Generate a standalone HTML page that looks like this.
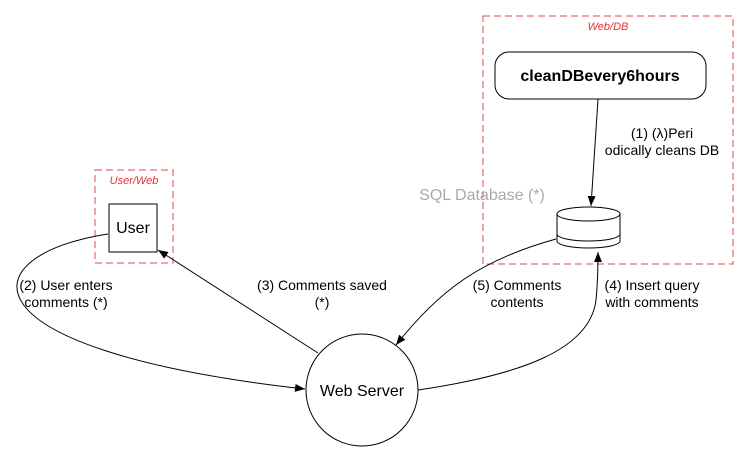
<!DOCTYPE html>
<html><head><style>body{margin:0;background:#fff}svg{display:block}text{font-family:"Liberation Sans",Arial,sans-serif}</style></head>
<body>
<svg width="750" height="453" viewBox="0 0 750 453" xmlns="http://www.w3.org/2000/svg">
<defs><marker id="a" markerWidth="10" markerHeight="8" refX="10" refY="4" orient="auto" markerUnits="userSpaceOnUse"><path d="M0,0 L10,4 L0,8 Z" fill="#000"/></marker></defs>
<rect x="483" y="16" width="250" height="248" fill="none" stroke="#e84848" stroke-dasharray="7,4"/>
<text x="608" y="30" font-size="11" font-style="italic" fill="#e83030" text-anchor="middle">Web/DB</text>
<rect x="95" y="170" width="78" height="93" fill="none" stroke="#e84848" stroke-dasharray="7,4"/>
<text x="134" y="184" font-size="11" font-style="italic" fill="#e83030" text-anchor="middle">User/Web</text>
<rect x="495" y="52" width="211" height="47" rx="14" fill="#fff" stroke="#000"/>
<text x="600" y="81" font-size="16" font-weight="bold" text-anchor="middle">cleanDBevery6hours</text>
<rect x="109" y="204" width="48" height="48" fill="#fff" stroke="#000"/>
<text x="133" y="233" font-size="16" text-anchor="middle">User</text>
<circle cx="362" cy="390" r="56" fill="#fff" stroke="#000"/>
<text x="362" y="396" font-size="16" text-anchor="middle">Web Server</text>
<path d="M557,214 L557,241 A31.5,7 0 0 0 620,241 L620,214" fill="#fff" stroke="#000"/>
<ellipse cx="588.5" cy="214" rx="31.5" ry="7" fill="#fff" stroke="#000"/>
<path d="M557,234 A31.5,7 0 0 0 620,234" fill="none" stroke="#000"/>
<text x="482" y="200" font-size="16" fill="#aaa" text-anchor="middle">SQL Database (*)</text>
<path d="M598,99 L591,206" stroke="#000" fill="none" marker-end="url(#a)"/>
<text x="662" y="138" font-size="14" text-anchor="middle">(1) (λ)Peri</text>
<text x="662" y="155" font-size="14" text-anchor="middle">odically cleans DB</text>
<path d="M108,234 C-30,255 -45,350 305,389" stroke="#000" fill="none" marker-end="url(#a)"/>
<text x="66" y="290" font-size="14" text-anchor="middle">(2) User enters</text>
<text x="66" y="307" font-size="14" text-anchor="middle">comments (*)</text>
<path d="M318,353 L158,250" stroke="#000" fill="none" marker-end="url(#a)"/>
<text x="322" y="290" font-size="14" text-anchor="middle">(3) Comments saved</text>
<text x="322" y="307" font-size="14" text-anchor="middle">(*)</text>
<path d="M556,239 C480,260 440,290 396,345" stroke="#000" fill="none" marker-end="url(#a)"/>
<text x="517" y="290" font-size="14" text-anchor="middle">(5) Comments</text>
<text x="517" y="307" font-size="14" text-anchor="middle">contents</text>
<path d="M418,390 C520,375 590,350 596,300 C598,280 598,265 598,252" stroke="#000" fill="none" marker-end="url(#a)"/>
<text x="652" y="290" font-size="14" text-anchor="middle">(4) Insert query</text>
<text x="652" y="307" font-size="14" text-anchor="middle">with comments</text>
</svg>
</body></html>
